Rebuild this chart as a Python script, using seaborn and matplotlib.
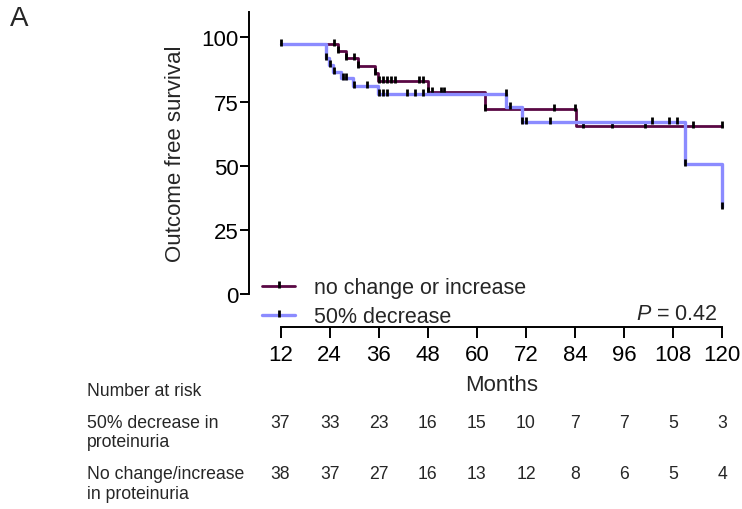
import numpy as np
import pandas as pd
import matplotlib
matplotlib.use("Agg")
import matplotlib.pyplot as plt
import matplotlib.transforms as mtransforms
from matplotlib.path import Path
from matplotlib.lines import Line2D
import seaborn as sns

# ---------------- data ----------------
# 50% decrease in proteinuria: step times (months) and survival after each step
dec_times = [12, 23.0, 23.9, 24.9, 26.8, 29.8, 35.9, 67.1, 71.0, 111.0, 120.0]
dec_surv = [97.4, 91.8, 89.2, 86.6, 84.0, 80.9, 77.9, 72.8, 67.0, 50.6, 33.8]
dec_censor = [12, 23.0, 24.0, 25.0, 27.2, 28.0, 30.0, 33.1, 36.1, 37.1, 38.1,
              42.9, 44.9, 46.9, 67.0, 68.0, 71.0, 72.0, 77.9, 102.9, 107.0,
              108.9, 111.0, 120.0]

# no change or increase
inc_times = [12, 26.1, 28.0, 31.0, 35.1, 35.9, 48.1, 61.9, 84.2, 120.0]
inc_surv = [97.4, 94.8, 91.8, 88.9, 86.1, 82.9, 78.8, 72.0, 65.6, 65.6]
inc_censor = [25.1, 26.1, 28.0, 30.0, 31.0, 35.1, 36.1, 37.1, 38.1, 39.0, 40.0,
              45.9, 46.9, 48.1, 49.1, 51.2, 52.0, 61.9, 78.9, 84.0, 86.0, 93.0,
              101.0, 112.9, 119.9]

group_labels = ["no change or increase", "50% decrease"]
p_text = "$P$ = 0.42"

month_ticks = [12, 24, 36, 48, 60, 72, 84, 96, 108, 120]
y_ticks = [0, 25, 50, 75, 100]

risk_title = "Number at risk"
risk_row_labels = ["50% decrease in\nproteinuria", "No change/increase\nin proteinuria"]
risk_dec = [37, 33, 23, 16, 15, 10, 7, 7, 5, 3]
risk_inc = [38, 37, 27, 16, 13, 12, 8, 6, 5, 4]

# ---------------- style ----------------
sns.set_style("ticks")
plt.rcParams["font.family"] = ["Liberation Sans", "DejaVu Sans"]
plt.rcParams["mathtext.fontset"] = "custom"
plt.rcParams["mathtext.it"] = "Liberation Sans:italic"
plt.rcParams["mathtext.rm"] = "Liberation Sans"

PURPLE = "#5A0844"
BLUE = "#8B8BFF"
AFS = 16      # axis text size
LFS = 15.5    # legend text size

W, H = 742, 510
fig = plt.figure(figsize=(W / 100, H / 100), dpi=100)
ax = fig.add_axes([249.3 / W, (H - 328) / H, (726.4 - 249.3) / W, (328 - 10.1) / H])

df_inc = pd.DataFrame({"Months": inc_times, "Survival": inc_surv})
df_dec = pd.DataFrame({"Months": dec_times, "Survival": dec_surv})

tick_path = Path([(0, -0.3), (0, 1)], [Path.MOVETO, Path.LINETO])
mk = dict(marker=tick_path, ms=7.2, mec="black", mfc="black", mew=2.0)


def step_value(times, surv, t):
    idx = np.searchsorted(np.asarray(times), t, side="right") - 1
    return np.asarray(surv)[np.clip(idx, 0, len(surv) - 1)]


sns.lineplot(data=df_inc, x="Months", y="Survival", drawstyle="steps-post",
             estimator=None, sort=False, color=PURPLE, linewidth=2.0, ax=ax,
             legend=False, zorder=2)
ax.plot(inc_censor, step_value(inc_times, inc_surv, inc_censor), linestyle="none",
        zorder=3, **mk)

sns.lineplot(data=df_dec, x="Months", y="Survival", drawstyle="steps-post",
             estimator=None, sort=False, color=BLUE, linewidth=2.4, ax=ax,
             legend=False, zorder=4)
ax.plot(dec_censor, step_value(dec_times, dec_surv, dec_censor), linestyle="none",
        zorder=5, **mk)

for ln in ax.lines:
    ln.set_clip_on(False)

ax.set_xlim(4.37, 121)
ax.set_ylim(-12.8, 111)
ax.set_xticks(month_ticks)
ax.set_yticks(y_ticks)
ax.set_xticklabels([str(m) for m in month_ticks])
ax.set_yticklabels([str(v) for v in y_ticks])

for side in ["top", "right"]:
    ax.spines[side].set_visible(False)
for side in ["left", "bottom"]:
    ax.spines[side].set_linewidth(1.4)
    ax.spines[side].set_color("black")
ax.spines["left"].set_bounds(0, 110)
ax.spines["bottom"].set_bounds(12, 120)

ax.tick_params(axis="y", length=6.2, width=1.4, pad=1.5, labelsize=AFS, colors="black")
ax.tick_params(axis="x", length=8, width=1.4, pad=4.5, labelsize=AFS, colors="black")

ax.set_ylabel("Outcome free survival", fontsize=AFS)
ax.yaxis.set_label_coords((186 - 249.3) / 477.1, (328 - 153.5) / 317.9)
ax.set_xlabel("Months", fontsize=AFS)
ax.xaxis.set_label_coords((501.4 - 249.3) / 477.1, (328 - 375) / 317.9)

handles = [
    Line2D([0], [0], color=PURPLE, lw=2.0, **mk),
    Line2D([0], [0], color=BLUE, lw=2.4, **mk),
]
leg = ax.legend(handles, group_labels, loc="upper left", frameon=False,
                bbox_to_anchor=(262 / W, 1 - 278.5 / H), bbox_transform=fig.transFigure,
                borderpad=0, borderaxespad=0, handlelength=1.55, handletextpad=0.85,
                labelspacing=0.35, fontsize=LFS, numpoints=1)

fig.text(718 / W, 1 - 314 / H, p_text, ha="right", va="center", fontsize=LFS)
fig.text(10 / W, 1 - 19 / H, "A", ha="left", va="center", fontsize=20)

# ---------------- number at risk table ----------------
blend = mtransforms.blended_transform_factory(ax.transData, fig.transFigure)
TFS = 12.7
label_x = 87 / W
fig.text(label_x, 1 - 391 / H, risk_title, ha="left", va="center", fontsize=TFS)
row_y = [423, 475]
for lab, y0 in zip(risk_row_labels, row_y):
    for i, line in enumerate(lab.split("\n")):
        fig.text(label_x, 1 - (y0 + 20 * i) / H, line, ha="left", va="center", fontsize=TFS)
for vals, y0 in zip([risk_dec, risk_inc], row_y):
    for m, v in zip(month_ticks, vals):
        ax.text(m, 1 - y0 / H, str(v), transform=blend, ha="center", va="center",
                fontsize=TFS, clip_on=False)

fig.savefig("out.png", dpi=100)
